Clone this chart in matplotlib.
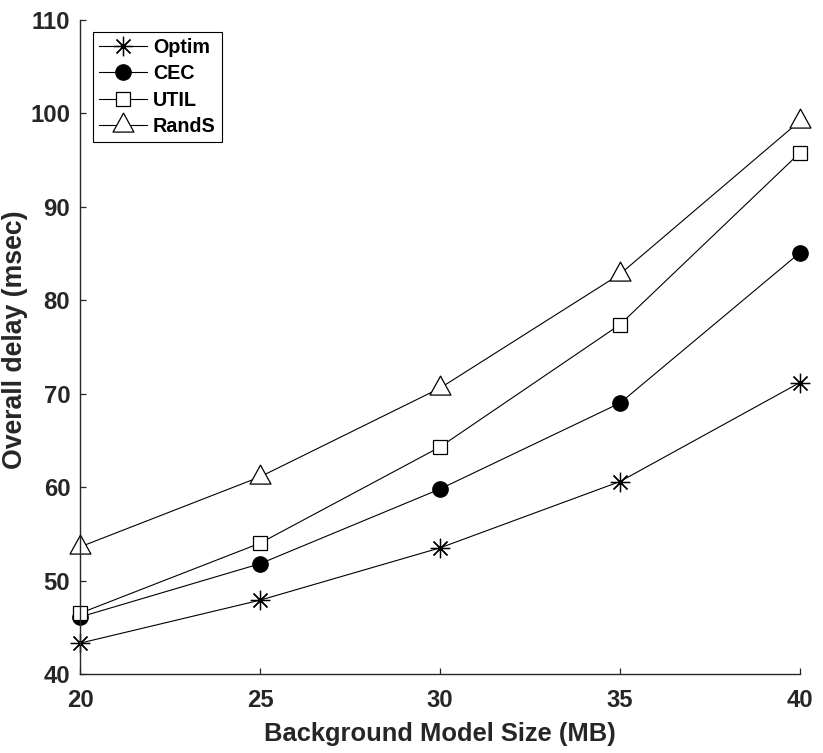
import numpy as np
import matplotlib
matplotlib.use("Agg")
import matplotlib.pyplot as plt
from matplotlib.path import Path

plt.rcParams['font.family'] = ['Liberation Sans', 'DejaVu Sans']
plt.rcParams['font.weight'] = 'bold'

# data
model_size = [20, 25, 30, 35, 40]
optim = [43.3, 47.9, 53.5, 60.6, 71.2]
cec = [46.1, 51.8, 59.8, 69.0, 85.1]
util = [46.5, 54.0, 64.3, 77.4, 95.8]
rands = [53.6, 61.1, 70.6, 82.8, 99.2]

TXT = '#262626'

# matlab-like triangle (wider than tall, centred on centroid)
tri = Path([(0, 12.4), (-10.5, -6.6), (10.5, -6.6), (0, 12.4)],
           [Path.MOVETO, Path.LINETO, Path.LINETO, Path.CLOSEPOLY])

fig = plt.figure(figsize=(8.23, 7.53), dpi=100)
ax = fig.add_axes([80/823, 79/753, 720/823, 654/753])

ax.plot(model_size, optim, color='k', lw=0.8, marker=(8, 2, 0), ms=14,
        mew=0.9, label='Optim', clip_on=False)
ax.plot(model_size, cec, color='k', lw=0.8, marker='o', ms=11,
        mfc='k', label='CEC', clip_on=False)
ax.plot(model_size, util, color='k', lw=0.8, marker='s', ms=10.5,
        mfc='white', mew=0.9, label='UTIL', clip_on=False)
ax.plot(model_size, rands, color='k', lw=0.8, marker=tri, ms=17.8,
        mfc='white', mew=0.9, label='RandS', clip_on=False)

ax.set_xlim(20, 40)
ax.set_ylim(40, 110)
ax.set_xticks([20, 25, 30, 35, 40])
ax.set_yticks(np.arange(40, 111, 10))

for s in ['top', 'right']:
    ax.spines[s].set_visible(False)
for s in ['left', 'bottom']:
    ax.spines[s].set_color(TXT)
    ax.spines[s].set_linewidth(1.0)

ax.tick_params(direction='in', length=4.5, width=0.9, color=TXT,
               labelsize=17.2, labelcolor=TXT)
ax.tick_params(axis='x', pad=11)
ax.tick_params(axis='y', pad=7)

ax.set_xlabel('Background Model Size (MB)', fontsize=18.4, color=TXT,
              fontweight='bold', labelpad=7)
ax.set_ylabel('Overall delay (msec)', fontsize=19.2, color=TXT,
              fontweight='bold')
ax.yaxis.set_label_coords(-0.072, 0.511)

leg = ax.legend(loc='upper left', bbox_to_anchor=(0.018, 0.982),
                borderaxespad=0, fontsize=14.2, handlelength=2.45,
                handletextpad=0.3, labelspacing=0.38, borderpad=0.3,
                fancybox=False, framealpha=1)
leg.get_frame().set_edgecolor('k')
leg.get_frame().set_linewidth(0.8)
for t in leg.get_texts():
    t.set_color('k')

fig.savefig('out.png', dpi=100)
